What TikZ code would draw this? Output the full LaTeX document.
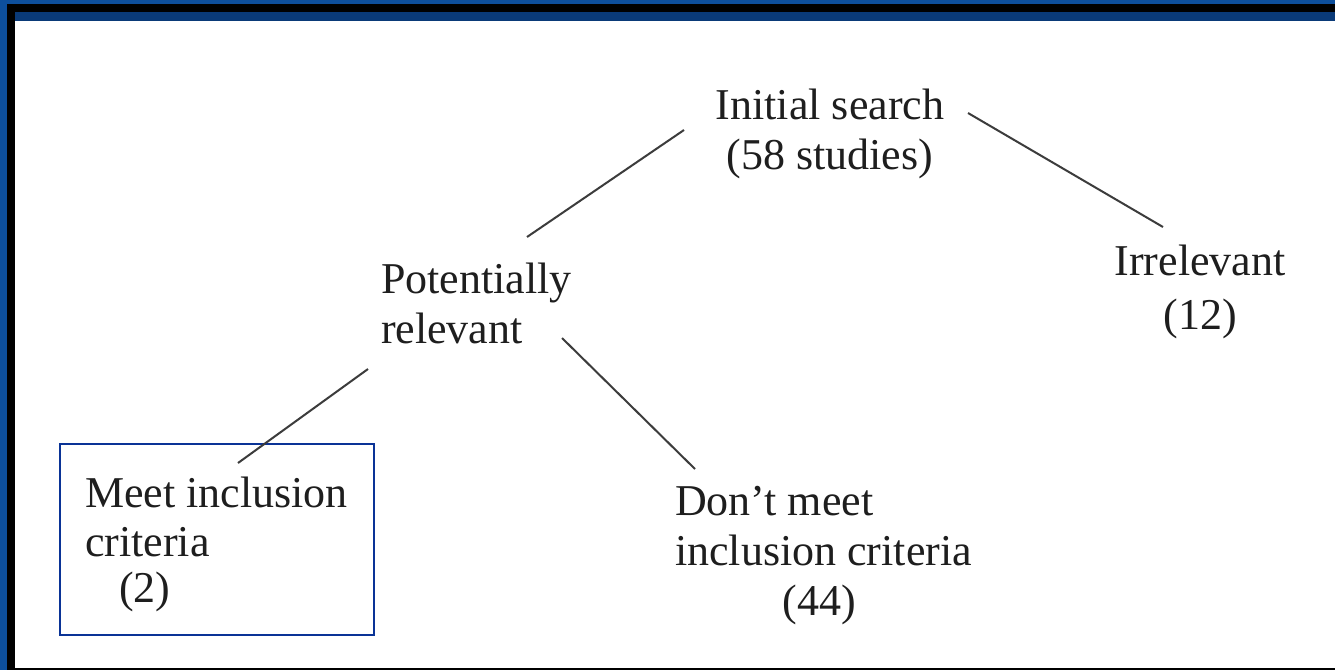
\documentclass[tikz,border=0pt]{standalone}
\usepackage{fontspec}
\setmainfont{Liberation Serif}
\definecolor{frameblue}{HTML}{0D4F9C}
\definecolor{banddark}{HTML}{0A3A78}
\definecolor{boxblue}{HTML}{0A3396}
\definecolor{txt}{HTML}{1E1E1E}
\definecolor{ln}{HTML}{3C3C3C}
\begin{document}
\begin{tikzpicture}[x=1pt,y=-1pt,
  lbl/.style={inner sep=0pt,outer sep=0pt,text=txt,font=\fontsize{44}{52}\selectfont},
  lw/.style={lbl,anchor=base west},
  lc/.style={lbl,anchor=base},
  conn/.style={draw=ln,line width=2pt}]
% frame
\fill[frameblue] (0,0) rectangle (1335,670);
\fill[black] (7,4) rectangle (1335,670);
\fill[banddark] (15,12) rectangle (1335,21);
\fill[white] (15,21) rectangle (1335,668);
\useasboundingbox (0,0) rectangle (1335,670);
% labels
\node[lc] (init1) at (830,119) {Initial search};
\node[lc] (init2) at (830,169) {(58 studies)};
\node[lc] (irr1) at (1200,275) {Irrelevant};
\node[lc] (irr2) at (1200,329) {(12)};
\node[lw] (pot1) at (381,293) {Potentially};
\node[lw] (pot2) at (381,343) {relevant};
\node[lw] (meet1) at (85,507) {Meet inclusion};
\node[lw] (meet2) at (85,556) {criteria};
\node[lw] (meet3) at (119,602) {(2)};
\node[lw] (dont1) at (675,515) {Don’t meet};
\node[lw] (dont2) at (675,565) {inclusion criteria};
\node[lc] (dont3) at (819,615) {(44)};
% box
\node[draw=boxblue,line width=2pt,minimum width=314pt,minimum height=191pt,inner sep=0pt,anchor=north west] (meetbox) at (59,443) {};
% connector ends
\coordinate (a1) at (684,130); \coordinate (a2) at (527,237);
\coordinate (b1) at (968,113); \coordinate (b2) at (1163,227);
\coordinate (c1) at (368,369); \coordinate (c2) at (238,463);
\coordinate (d1) at (562,338); \coordinate (d2) at (695,469);
\draw[conn] (a1) -- (a2);
\draw[conn] (b1) -- (b2);
\draw[conn] (c1) -- (c2);
\draw[conn] (d1) -- (d2);
\end{tikzpicture}
\end{document}
